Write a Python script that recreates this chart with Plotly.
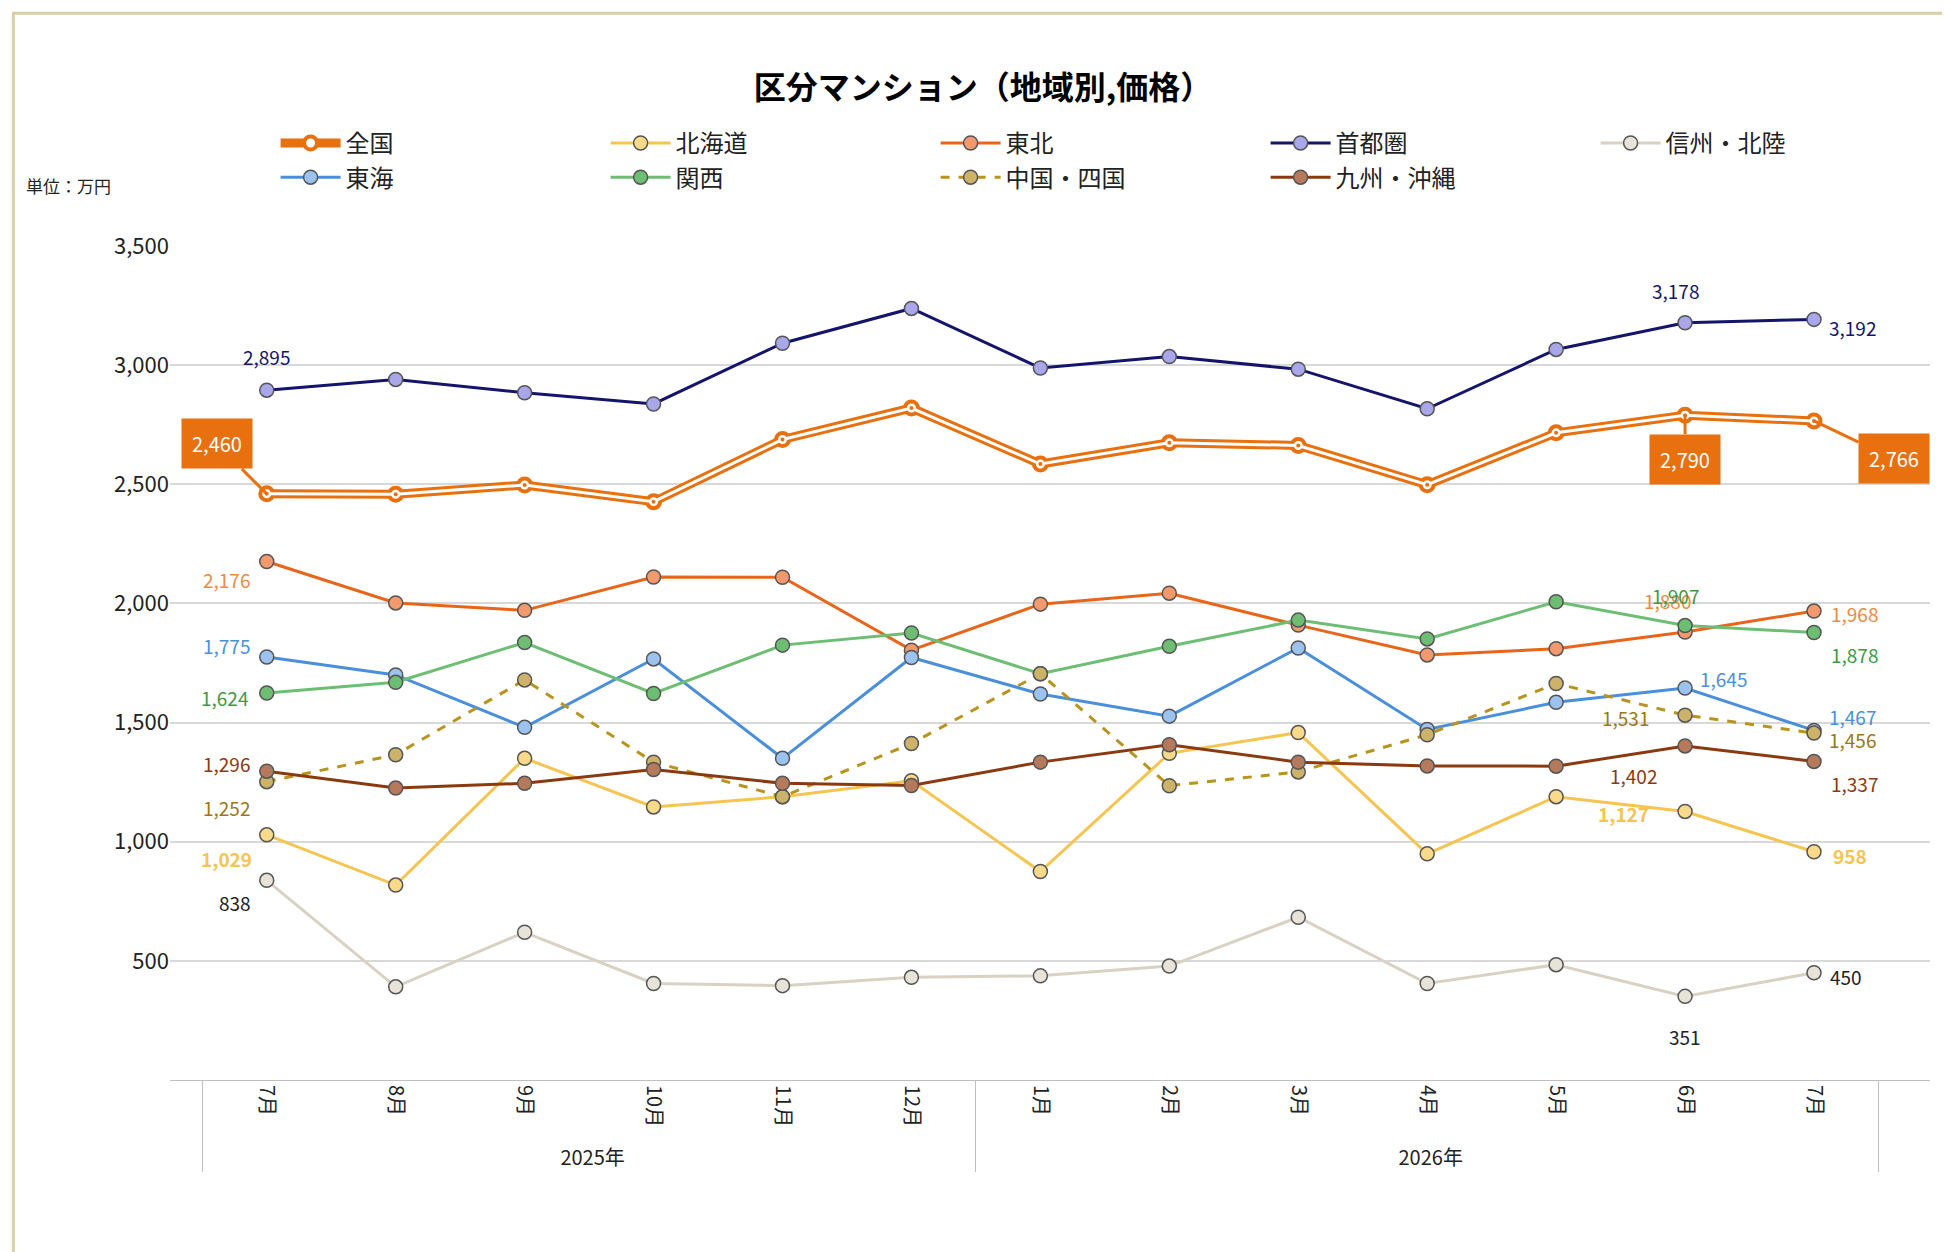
import plotly.graph_objects as go

years = ["2025年"] * 6 + ["2026年"] * 7
months = ["7月", "8月", "9月", "10月", "11月", "12月", "1月", "2月", "3月", "4月", "5月", "6月", "7月\u200b"]

zenkoku = [2460, 2458, 2497, 2427, 2688, 2820, 2585, 2674, 2663, 2498, 2716, 2790, 2766]
hokkaido = [1029, 818, 1350, 1146, 1189, 1256, 875, 1371, 1458, 949, 1189, 1127, 958]
tohoku = [2176, 2002, 1971, 2111, 2110, 1804, 1997, 2043, 1909, 1784, 1810, 1880, 1968]
shutoken = [2895, 2940, 2884, 2837, 3092, 3238, 2988, 3036, 2983, 2817, 3066, 3178, 3192]
shinshu = [838, 391, 620, 405, 396, 431, 437, 478, 683, 405, 484, 351, 450]
tokai = [1775, 1700, 1480, 1767, 1350, 1773, 1620, 1527, 1813, 1471, 1585, 1645, 1467]
kansai = [1624, 1669, 1836, 1622, 1825, 1876, 1705, 1820, 1930, 1851, 2007, 1907, 1878]
chugoku = [1252, 1365, 1679, 1334, 1189, 1412, 1705, 1235, 1293, 1449, 1664, 1531, 1456]
kyushu = [1296, 1225, 1245, 1303, 1245, 1236, 1334, 1407, 1334, 1318, 1317, 1402, 1337]

x = [years, months]
FONT = "Noto Sans CJK JP"

# name, values, line colour, marker fill, dash
series = [
    ("北海道", hokkaido, "#F5C451", "#F9DA8A", "solid"),
    ("東北", tohoku, "#E8651A", "#F29A6E", "solid"),
    ("首都圏", shutoken, "#14146B", "#A9A6EA", "solid"),
    ("信州・北陸", shinshu, "#D9D2C3", "#E8E3D8", "solid"),
    ("東海", tokai, "#4A8FDB", "#9CC2F0", "solid"),
    ("関西", kansai, "#6DBE73", "#6DBE73", "solid"),
    ("中国・四国", chugoku, "#B8941E", "#CDB36A", "dash"),
    ("九州・沖縄", kyushu, "#8B3A10", "#B57A5C", "solid"),
]

fig = go.Figure()
# 全国: double line
fig.add_trace(go.Scatter(x=x, y=zenkoku, name="全国", mode="lines+markers",
                         line=dict(color="#E8700E", width=9),
                         marker=dict(size=13, color="white", line=dict(color="#E8700E", width=4))))
fig.add_trace(go.Scatter(x=x, y=zenkoku, showlegend=False, mode="lines", hoverinfo="skip",
                         line=dict(color="white", width=3)))
fig.add_trace(go.Scatter(x=x, y=zenkoku, showlegend=False, mode="markers", hoverinfo="skip",
                         marker=dict(size=4, color="#E8700E")))
for name, vals, col, fill, dash in series:
    fig.add_trace(go.Scatter(x=x, y=vals, name=name, mode="lines+markers",
                             line=dict(color=col, width=3, dash=dash),
                             marker=dict(size=14, color=fill,
                                         line=dict(color="#555555", width=1.5))))

labels = [
    (shutoken, 0, "2,895", "#14146B", 0, 34),
    (shutoken, 11, "3,178", "#14146B", -10, 32),
    (shutoken, 12, "3,192", "#14146B", 38, -8),
    (tohoku, 0, "2,176", "#F08A40", -40, -18),
    (tohoku, 11, "1,880", "#F08A40", -18, 32),
    (tohoku, 12, "1,968", "#F08A40", 40, -2),
    (tokai, 0, "1,775", "#4A8FDB", -40, 12),
    (tokai, 11, "1,645", "#4A8FDB", 38, 10),
    (tokai, 12, "1,467", "#4A8FDB", 38, 14),
    (kansai, 0, "1,624", "#3C9A45", -42, -4),
    (kansai, 11, "1,907", "#3C9A45", -10, 30),
    (kansai, 12, "1,878", "#3C9A45", 40, -22),
    (chugoku, 0, "1,252", "#9A7A10", -40, -26),
    (chugoku, 11, "1,531", "#9A7A10", -60, -2),
    (chugoku, 12, "1,456", "#9A7A10", 38, -6),
    (kyushu, 0, "1,296", "#8B3A10", -40, 8),
    (kyushu, 11, "1,402", "#8B3A10", -52, -30),
    (kyushu, 12, "1,337", "#8B3A10", 40, -22),
    (hokkaido, 0, "<b>1,029</b>", "#F5C451", -40, -24),
    (hokkaido, 11, "<b>1,127</b>", "#F5C451", -62, -2),
    (hokkaido, 12, "<b>958</b>", "#F5C451", 36, -4),
    (shinshu, 0, "838", "#222222", -32, -22),
    (shinshu, 11, "351", "#222222", 0, -40),
    (shinshu, 12, "450", "#222222", 32, -4),
]
for vals, i, txt, col, dx, dy in labels:
    fig.add_annotation(x=[years[i], months[i]], y=vals[i], text=txt, showarrow=False,
                       xshift=dx, yshift=dy, font=dict(size=19, color=col, family=FONT))

for i, ax_, ay_ in [(0, -50, -50), (11, 0, 44), (12, 80, 38)]:
    fig.add_annotation(x=[years[i], months[i]], y=zenkoku[i], text=f"{zenkoku[i]:,}",
                       showarrow=True, arrowhead=0, arrowwidth=3, arrowcolor="#E8700E",
                       ax=ax_, ay=ay_, bgcolor="#E8700E", borderpad=10,
                       font=dict(size=20, color="white", family=FONT))

fig.add_annotation(xref="paper", yref="paper", x=-0.083, y=1.09, text="単位：万円",
                   showarrow=False, xanchor="left", font=dict(size=17, color="#222", family=FONT))

fig.update_layout(
    width=1950, height=1252,
    paper_bgcolor="white", plot_bgcolor="white",
    font=dict(family=FONT, size=20, color="#222"),
    title=dict(text="<b>区分マンション（地域別,価格）</b>", x=0.5, y=0.945,
               font=dict(size=32, color="black", family=FONT)),
    margin=dict(l=162, r=28, t=238, b=180),
    legend=dict(orientation="h", x=0.06, y=1.15, xanchor="left", yanchor="top",
                entrywidth=255, font=dict(size=24), itemwidth=60),
    showlegend=True,
    shapes=[dict(type="rect", xref="paper", yref="paper", x0=-0.089, x1=1.013, y0=-0.21, y1=1.279,
                 line=dict(color="#D8CFA8", width=3))],
)
fig.update_yaxes(range=[0, 3500], tickvals=[500, 1000, 1500, 2000, 2500, 3000, 3500],
                 tickformat=",", gridcolor="#D9D9D9", gridwidth=1.5, zeroline=False,
                 tickfont=dict(size=22))
fig.update_xaxes(type="multicategory", tickangle=90, showline=True, linecolor="#BFBFBF",
                 showdividers=True, dividercolor="#BFBFBF", tickfont=dict(size=20))

fig.write_html("out.html")
